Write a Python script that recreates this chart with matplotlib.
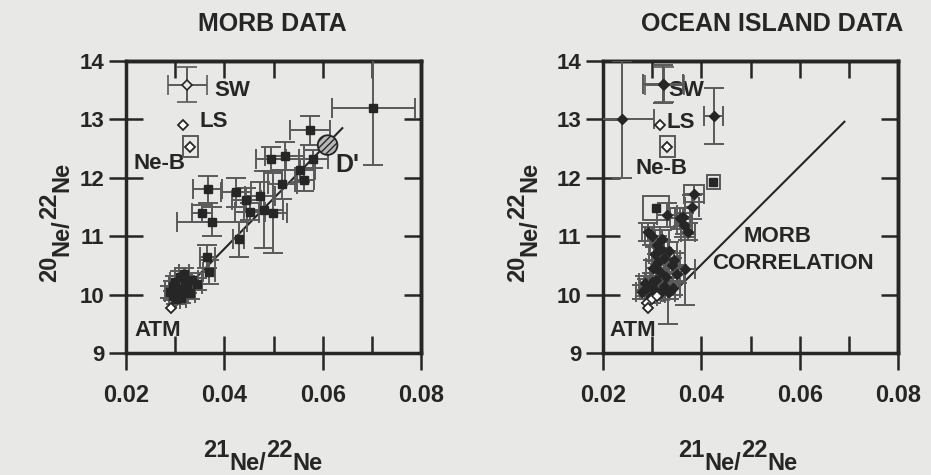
"""Ne isotope three-isotope plots: MORB data and ocean island data."""

import matplotlib
matplotlib.use("Agg")
import matplotlib.pyplot as plt
from matplotlib.patches import Rectangle

INK = "#262626"
BAR = "#5a5a5a"
PAPER = "#e8e8e6"

plt.rcParams["font.family"] = ["Liberation Sans", "DejaVu Sans"]
plt.rcParams["font.weight"] = "bold"

# reference compositions (21Ne/22Ne, 20Ne/22Ne)
sw_x, sw_y, sw_xerr, sw_yerr = 0.0325, 13.59, 0.0040, 0.30
ls_x, ls_y = 0.0316, 12.90
neb_x, neb_y, neb_xerr, neb_yerr = 0.0331, 12.53, 0.0015, 0.18
atm_x, atm_y = 0.0292, 9.77
dprime_x, dprime_y = 0.0610, 12.56

# MORB correlation line end points
morb_line_x = [0.0295, 0.0640]
morb_line_y = [9.88, 12.85]
oib_line_x = [0.0345, 0.0691]
oib_line_y = [10.05, 12.96]

# MORB samples
morb_x = [0.0703, 0.0574, 0.0523, 0.0495, 0.0581, 0.0554, 0.0563, 0.0518,
          0.0366, 0.0424, 0.0445, 0.0473, 0.0452, 0.0480, 0.0499, 0.0354,
          0.0375, 0.0429, 0.0365, 0.0368, 0.0344,
          0.0300, 0.0305, 0.0310, 0.0296, 0.0315, 0.0320, 0.0302, 0.0325,
          0.0290, 0.0312, 0.0335, 0.0330, 0.0295, 0.0318]
morb_y = [13.19, 12.81, 12.38, 12.32, 12.32, 12.13, 11.97, 11.89,
          11.80, 11.75, 11.62, 11.68, 11.42, 11.45, 11.40, 11.39,
          11.25, 10.95, 10.65, 10.39, 10.18,
          10.22, 10.10, 10.30, 9.98, 10.05, 10.20, 9.92, 10.12,
          10.05, 9.95, 10.25, 10.02, 10.15, 10.35]
morb_xerr = [0.0085, 0.0040, 0.0040, 0.0030, 0.0030, 0.0030, 0.0020, 0.0030,
             0.0030, 0.0030, 0.0030, 0.0030, 0.0030, 0.0040, 0.0029, 0.0020,
             0.0072, 0.0012, 0.0015, 0.0012, 0.0010,
             0.0010, 0.0012, 0.0010, 0.0008, 0.0012, 0.0010, 0.0008, 0.0010,
             0.0010, 0.0010, 0.0012, 0.0010, 0.0008, 0.0010]
morb_yerr = [0.97, 0.25, 0.24, 0.20, 0.15, 0.20, 0.20, 0.25,
             0.23, 0.25, 0.20, 0.25, 0.15, 0.66, 0.69, 0.15,
             0.25, 0.30, 0.20, 0.21, 0.10,
             0.10, 0.12, 0.10, 0.08, 0.10, 0.12, 0.08, 0.10,
             0.10, 0.10, 0.12, 0.10, 0.08, 0.10]

# ocean island samples
oib_x = [0.0239, 0.0322, 0.0425, 0.0385, 0.0381, 0.0330, 0.0357, 0.0362,
         0.0292, 0.0373, 0.0365, 0.0367,
         0.0300, 0.0310, 0.0305, 0.0318, 0.0312, 0.0302, 0.0325, 0.0315,
         0.0335, 0.0340, 0.0328, 0.0345, 0.0350, 0.0320, 0.0308,
         0.0280, 0.0290, 0.0298, 0.0305, 0.0315, 0.0325, 0.0335, 0.0342,
         0.0285, 0.0300, 0.0332]
oib_y = [13.00, 13.61, 13.06, 11.73, 11.50, 11.36, 11.31, 11.33,
         11.07, 11.08, 11.19, 10.43,
         11.00, 10.85, 10.70, 10.78, 10.55, 10.45, 10.62, 10.38,
         10.75, 10.50, 10.30, 10.60, 10.35, 10.95, 10.25,
         10.05, 10.12, 9.98, 10.08, 10.02, 10.15, 10.05, 10.12,
         10.20, 10.22, 10.05]
oib_xerr = [0.0064, 0.0040, 0.0020, 0.0020, 0.0015, 0.0020, 0.0020, 0.0015,
            0.0012, 0.0015, 0.0015, 0.0021,
            0.0015, 0.0015, 0.0012, 0.0015, 0.0012, 0.0015, 0.0012, 0.0015,
            0.0015, 0.0012, 0.0015, 0.0012, 0.0015, 0.0015, 0.0012,
            0.0012, 0.0015, 0.0012, 0.0015, 0.0012, 0.0015, 0.0012, 0.0015,
            0.0012, 0.0015, 0.0015]
oib_yerr = [1.00, 0.33, 0.48, 0.15, 0.20, 0.20, 0.18, 0.15,
            0.15, 0.15, 0.20, 0.60,
            0.15, 0.15, 0.12, 0.15, 0.12, 0.15, 0.12, 0.15,
            0.15, 0.12, 0.15, 0.12, 0.15, 0.15, 0.12,
            0.12, 0.15, 0.12, 0.12, 0.12, 0.15, 0.12, 0.12,
            0.12, 0.15, 0.55]

# ocean island points drawn with an error box
box_x = [0.0424, 0.0308]
box_y = [11.93, 11.48]
box_xerr = [0.0013, 0.0027]
box_yerr = [0.12, 0.20]

# near-atmospheric open diamonds (ocean islands)
oib_air_x = [0.0290, 0.0300, 0.0310]
oib_air_y = [9.85, 9.92, 9.97]

x_ticks = [0.02, 0.04, 0.06, 0.08]
x_minor = [0.03, 0.05, 0.07]
y_ticks = [9, 10, 11, 12, 13, 14]

FIG_W, FIG_H = 931, 475
AX_W, AX_H, AX_B = 295, 292, 122


def setup_axes(ax):
    ax.set_facecolor(PAPER)
    ax.set_xlim(0.02, 0.08)
    ax.set_ylim(9, 14)
    ax.set_xticks(x_ticks)
    ax.set_xticks(x_minor, minor=True)
    ax.set_yticks(y_ticks)
    ax.set_xticklabels([f"{t:.2f}" for t in x_ticks])
    for s in ax.spines.values():
        s.set_linewidth(2.5)
        s.set_color(INK)
    ax.tick_params(which="major", direction="inout", length=25, width=1.8,
                   color=INK, labelcolor=INK)
    ax.tick_params(axis="x", which="major", labelsize=17, pad=10)
    ax.tick_params(axis="y", which="major", labelsize=16, pad=3)
    ax.tick_params(axis="x", which="minor", direction="in", length=12,
                   width=1.8, color=INK)
    top = ax.secondary_xaxis("top")
    top.set_xticks([0.03, 0.04, 0.05, 0.06, 0.07])
    top.tick_params(direction="in", length=12, width=1.8, color=INK,
                    labeltop=False)
    top.spines["top"].set_linewidth(2.5)
    right = ax.secondary_yaxis("right")
    right.set_yticks([10, 11, 12, 13])
    right.tick_params(direction="in", length=12, width=1.8, color=INK,
                      labelright=False)
    right.spines["right"].set_linewidth(2.5)


def ratio_label(ax, x_px, y_px, top, vertical):
    """Old-style 21Ne/22Ne label: numbers raised, Ne lowered."""
    kw = dict(fontsize=17, fontweight="bold", color=INK,
              rotation=90 if vertical else 0, ha="left", va="bottom")
    prev = ax.figure.text(x_px / FIG_W, 1 - y_px / FIG_H, top, **kw)
    shift = 9
    for i, piece in enumerate(["Ne/", "22", "Ne"]):
        sign = 1 if i % 2 == 0 else -1
        if vertical:
            xy, off = (0, 1), (sign * shift, 0)
        else:
            xy, off = (1, 0), (0, -sign * shift)
        prev = ax.annotate(piece, xy=xy, xycoords=prev, xytext=off,
                           textcoords="offset points", annotation_clip=False,
                           **kw)


def ref_points(ax, sw_filled):
    ax.errorbar([sw_x], [sw_y], xerr=[sw_xerr], yerr=[sw_yerr], fmt="D",
                ms=5, mfc=INK if sw_filled else PAPER, mec=INK, mew=1.2,
                ecolor=BAR, elinewidth=1.4, capsize=7, capthick=1.4, zorder=4)
    ax.plot([ls_x, neb_x, atm_x], [ls_y, neb_y, atm_y], "D", ms=5.5,
            mfc="white", mec=INK, mew=1.3, zorder=5)
    ax.add_patch(Rectangle((neb_x - neb_xerr, neb_y - neb_yerr), 2 * neb_xerr,
                           2 * neb_yerr, fill=False, ec=BAR, lw=1.4, zorder=4))
    return dict(fontsize=16, fontweight="bold", color=INK, ha="center",
                va="center")


fig = plt.figure(figsize=(FIG_W / 100, FIG_H / 100), dpi=100, facecolor=PAPER)
ax1 = fig.add_axes([126 / FIG_W, AX_B / FIG_H, AX_W / FIG_W, AX_H / FIG_H])
ax2 = fig.add_axes([603 / FIG_W, AX_B / FIG_H, AX_W / FIG_W, AX_H / FIG_H])

# ---- MORB panel
setup_axes(ax1)
ax1.plot(morb_line_x, morb_line_y, color=INK, lw=1.5, zorder=3)
ax1.errorbar(morb_x, morb_y, xerr=morb_xerr, yerr=morb_yerr, fmt="s", ms=6,
             mfc=INK, mec=INK, ecolor=BAR, elinewidth=1.4, capsize=7,
             capthick=1.4, zorder=4)
ax1.scatter([dprime_x], [dprime_y], s=200, marker="o", facecolor="#b8b8b8",
            edgecolor=INK, hatch="/////", lw=1.3, zorder=6)
txt = ref_points(ax1, sw_filled=False)
ax1.text(0.0416, 13.50, "SW", **txt)
ax1.text(0.0378, 12.96, "LS", **txt)
ax1.text(0.0269, 12.24, "Ne-B", **txt)
ax1.text(0.0265, 9.39, "ATM", **txt)
ax1.text(0.0651, 12.22, "D'", fontsize=18, fontweight="bold", color=INK,
         ha="center", va="center")

# ---- ocean island panel
setup_axes(ax2)
ax2.plot(oib_line_x, oib_line_y, color=INK, lw=1.5, zorder=3)
ax2.errorbar(oib_x, oib_y, xerr=oib_xerr, yerr=oib_yerr, fmt="D", ms=5.5,
             mfc=INK, mec=INK, ecolor=BAR, elinewidth=1.4, capsize=7,
             capthick=1.4, zorder=4)
ax2.plot(box_x, box_y, "s", ms=5.5, mfc=INK, mec=INK, zorder=5)
for bx, by, bxe, bye in zip(box_x, box_y, box_xerr, box_yerr):
    ax2.add_patch(Rectangle((bx - bxe, by - bye), 2 * bxe, 2 * bye,
                            fill=False, ec=BAR, lw=1.4, zorder=4))
ax2.plot(oib_air_x, oib_air_y, "D", ms=5.5, mfc="white", mec=INK, mew=1.2,
         zorder=5)
txt = ref_points(ax2, sw_filled=True)
ax2.text(0.0369, 13.49, "SW", **txt)
ax2.text(0.0359, 12.94, "LS", **txt)
ax2.text(0.0319, 12.16, "Ne-B", **txt)
ax2.text(0.0261, 9.39, "ATM", **txt)
ax2.text(0.0555, 10.99, "MORB", **txt)
ax2.text(0.0586, 10.54, "CORRELATION", **txt)

# titles and axis labels
fig.text(272 / FIG_W, 1 - 24 / FIG_H, "MORB DATA", fontsize=18,
         fontweight="bold", color=INK, ha="center", va="center")
fig.text(772 / FIG_W, 1 - 24 / FIG_H, "OCEAN ISLAND DATA", fontsize=18,
         fontweight="bold", color=INK, ha="center", va="center")
ratio_label(ax1, 203, 462, "21", vertical=False)
ratio_label(ax2, 678, 462, "21", vertical=False)
ratio_label(ax1, 38, 282, "20", vertical=True)
ratio_label(ax2, 506, 282, "20", vertical=True)

fig.savefig("out.png", dpi=100, facecolor=PAPER)
